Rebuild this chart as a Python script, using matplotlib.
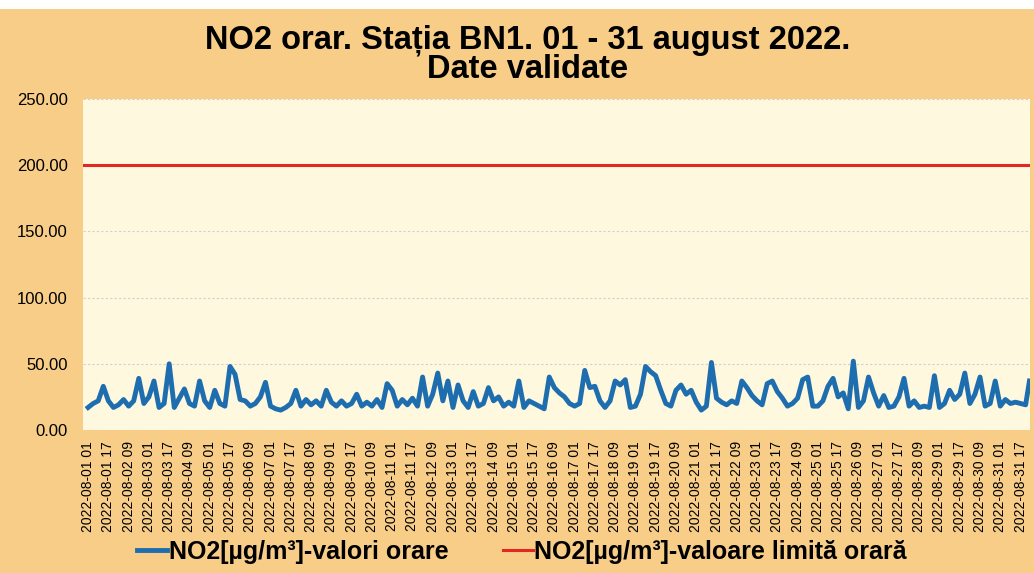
import numpy as np
import pandas as pd
import matplotlib
matplotlib.use("Agg")
import matplotlib.pyplot as plt
from matplotlib.patches import Rectangle

plt.rcParams["font.family"] = ["Liberation Sans", "DejaVu Sans"]

# NO2 hourly values, one value every 4 hours (6 per day)
STEP_HOURS = 4
no2_values = [
    17, 20, 22, 33, 22, 17,   # 01 aug
    19, 23, 18, 22, 39, 20,
    25, 37, 17, 20, 50, 17,
    24, 31, 20, 18, 37, 22,
    17, 30, 20, 18, 48, 42,   # 05
    23, 22, 18, 20, 25, 36,
    18, 16, 15, 17, 20, 30,
    18, 23, 19, 22, 18, 30,
    21, 18, 22, 18, 20, 27,
    18, 21, 18, 23, 17, 35,   # 10
    30, 18, 23, 19, 24, 18,
    40, 18, 27, 43, 22, 37,
    17, 34, 22, 17, 29, 18,
    20, 32, 22, 25, 18, 21,
    18, 37, 17, 22, 20, 18,   # 15
    16, 40, 32, 28, 25, 20,
    18, 20, 45, 32, 33, 22,
    17, 22, 37, 34, 38, 17,
    18, 27, 48, 44, 41, 30,
    20, 18, 30, 34, 27, 30,   # 20
    21, 15, 18, 51, 24, 21,
    19, 22, 20, 37, 32, 26,
    22, 19, 35, 37, 29, 24,
    18, 20, 24, 38, 40, 18,
    18, 22, 33, 39, 25, 28,   # 25
    16, 52, 17, 22, 40, 28,
    18, 26, 17, 18, 25, 39,
    18, 22, 17, 18, 17, 41,
    17, 20, 30, 23, 27, 43,
    20, 27, 40, 18, 20, 37,   # 30
    18, 23, 20, 21, 20, 19,
]
last_hour = 743
last_value = 37
limit_value = 200
y_ticks = [0, 50, 100, 150, 200, 250]
tick_times = pd.date_range("2022-08-01 01:00", periods=47, freq="16h")
tick_labels = [t.strftime("%Y-%m-%d %H") for t in tick_times]

hours = np.append(np.arange(len(no2_values)) * STEP_HOURS, last_hour)
values = np.append(no2_values, last_value)

fig = plt.figure(figsize=(10.34, 5.73), dpi=100, facecolor="white")
fig.patches.append(Rectangle((0, 0), 1, 1 - 9 / 573, transform=fig.transFigure,
                             facecolor="#F7CD87", edgecolor="none", zorder=-10))
ax = fig.add_axes([0.0803, 0.2496, 0.9159, 0.5776])
ax.set_facecolor("#FEF8DE")

ax.plot(hours, values, color="#1E6EAF", lw=3.5, solid_joinstyle="round",
        label="NO2[µg/m³]-valori orare")
ax.axhline(limit_value, color="#E12823", lw=2.2,
           label="NO2[µg/m³]-valoare limită orară")

ax.set_ylim(0, 250)
ax.set_xlim(-4, 743.5)
ax.set_yticks(y_ticks)
ax.set_yticklabels([f"{v:.2f}" for v in y_ticks], fontsize=12)
ax.set_xticks(np.arange(len(tick_labels)) * 16)
ax.set_xticklabels(tick_labels, rotation=90, fontsize=10)
ax.tick_params(length=0, axis="y", pad=11)
ax.tick_params(length=0, axis="x", pad=8)
ax.grid(axis="y", color="#d0d0d0", lw=0.8, ls=(0, (2, 2)))
for s in ax.spines.values():
    s.set_visible(False)

fig.text(0.51, 1 - 55 / 573, "NO2 orar. Stația BN1. 01 - 31 august 2022.\nDate validate",
         ha="center", va="center", fontsize=23.5, fontweight="bold",
         linespacing=0.92)

fig.legend(loc="center", bbox_to_anchor=(0.505, 0.037), ncol=2, frameon=False,
           prop={"size": 18, "weight": "bold"}, handlelength=1.2,
           handletextpad=0.05, columnspacing=2.2)

fig.savefig("out.png", dpi=100, facecolor=fig.get_facecolor())
